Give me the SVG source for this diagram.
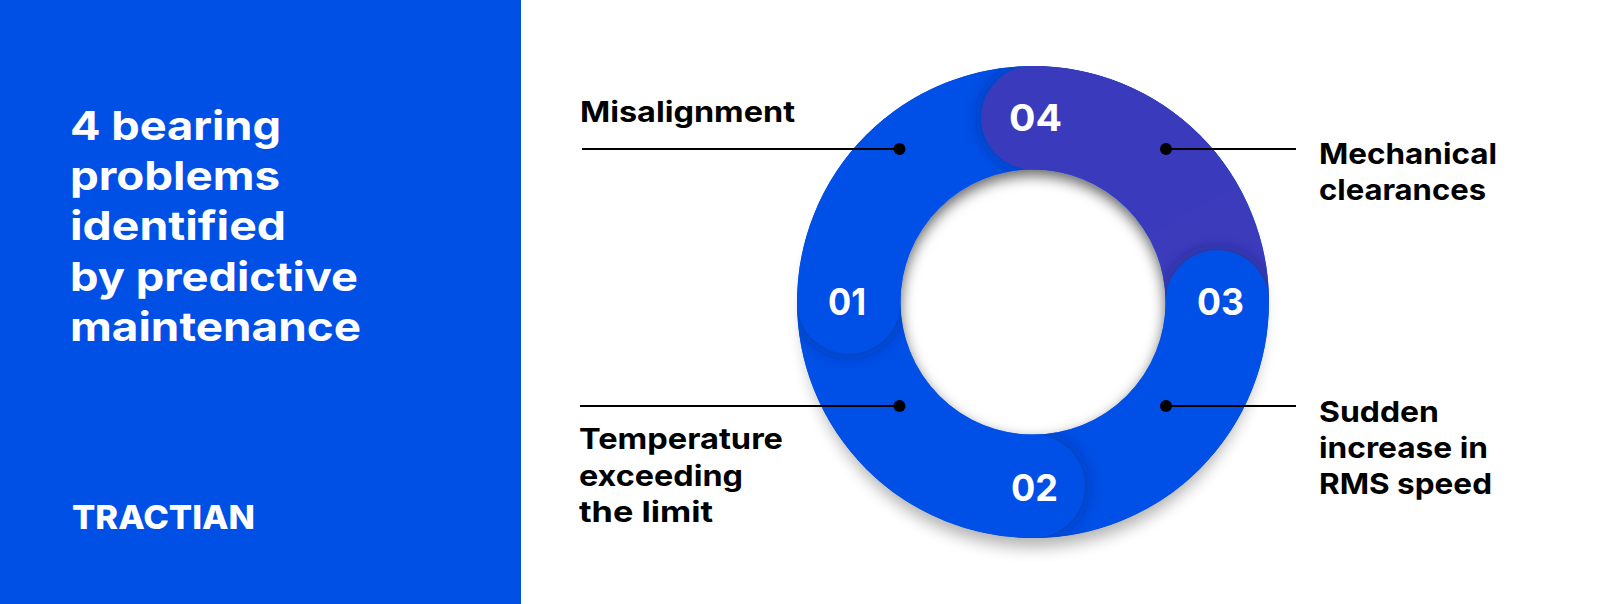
<svg xmlns="http://www.w3.org/2000/svg" width="1615" height="604" viewBox="0 0 1615 604">
<style>
text{font-family:"Inter","Liberation Sans",sans-serif;font-weight:700}
.head{font-size:40px;fill:#fff}
.num{font-size:37px;fill:#fff}
.lab{font-size:29px;fill:#000}
.arc{fill:none;stroke-width:103.5}
.blue{stroke:#0050E6}
.pur{stroke:#3A3BBC}
.conn{stroke:#000;stroke-width:2;fill:none}
</style>
<defs>
<filter id="soft" x="-20%" y="-20%" width="140%" height="140%"><feGaussianBlur stdDeviation="8"/></filter>
<filter id="inner" x="-20%" y="-20%" width="140%" height="140%"><feDropShadow dx="0" dy="6" stdDeviation="7" flood-color="#000" flood-opacity="0.6"/></filter>
<filter id="cap" x="-30%" y="-30%" width="160%" height="160%"><feDropShadow dx="0" dy="0" stdDeviation="8" flood-color="#001a60" flood-opacity="0.5"/></filter>
<clipPath id="ring"><path clip-rule="evenodd" d="M797,302a236,236 0 1,0 472,0a236,236 0 1,0 -472,0ZM900.500,302a132.500,132.500 0 1,0 265,0a132.500,132.500 0 1,0 -265,0Z"/></clipPath>
<clipPath id="hole"><circle cx="1033" cy="302" r="133"/></clipPath>
</defs>
<rect id="panel" x="0" y="0" width="521" height="604" fill="#0050E6"/>
<g id="heading">
<text class="head" x="70" y="140" textLength="211" lengthAdjust="spacingAndGlyphs">4 bearing</text>
<text class="head" x="70" y="190" textLength="210" lengthAdjust="spacingAndGlyphs">problems</text>
<text class="head" x="70" y="240" textLength="216" lengthAdjust="spacingAndGlyphs">identified</text>
<text class="head" x="70" y="291" textLength="288" lengthAdjust="spacingAndGlyphs">by predictive</text>
<text class="head" x="70" y="341" textLength="291" lengthAdjust="spacingAndGlyphs">maintenance</text>
</g>
<text id="logo" x="72" y="529" font-size="33" style="font-weight:800" fill="#fff" textLength="183" lengthAdjust="spacingAndGlyphs">TRACTIAN</text>
<circle id="outer-shadow" cx="1033" cy="318" r="229" fill="#000" opacity="0.3" filter="url(#soft)"/>
<circle id="ring-base" cx="1033" cy="302" r="184.250" fill="none" stroke="#0050E6" stroke-width="103.500"/>
<g clip-path="url(#hole)">
<rect x="895" y="164" width="276" height="276" fill="#fff"/>
<circle id="hole-shadow" cx="1033" cy="302" r="184.250" fill="none" stroke="#0050E6" stroke-width="103.500" filter="url(#inner)"/>
</g>
<g clip-path="url(#ring)">
<g id="ring-04-under" filter="url(#cap)">
<path class="arc pur" d="M1033,117.750A184.250,184.250 0 0 1 1217.250,302"/>
</g>
<g filter="url(#cap)" id="ring-03">
<path class="arc blue" d="M1217.250,302A184.250,184.250 0 0 1 1033,486.250"/>
<circle cx="1217.250" cy="302" r="51.750" fill="#0050E6"/>
</g>
<g filter="url(#cap)" id="ring-02">
<path class="arc blue" d="M1033,486.250A184.250,184.250 0 0 1 848.750,302"/>
<circle cx="1033" cy="486.250" r="51.750" fill="#0050E6"/>
</g>
<g filter="url(#cap)" id="ring-01">
<path class="arc blue" d="M848.750,302A184.250,184.250 0 0 1 1033,117.750"/>
<circle cx="848.750" cy="302" r="51.750" fill="#0050E6"/>
</g>
<circle cx="1033" cy="117.750" r="51.750" fill="#3A3BBC" filter="url(#cap)"/>
<path class="arc pur" d="M1033,117.750A184.250,184.250 0 0 1 1192.600,209.900"/>
<circle cx="1033" cy="117.750" r="51.750" fill="#3A3BBC"/>
</g>
<g id="connectors">
<path class="conn" d="M582,149H899"/><circle cx="899.500" cy="149" r="6"/>
<path class="conn" d="M1166,149H1296"/><circle cx="1166" cy="149" r="6"/>
<path class="conn" d="M580,406H899"/><circle cx="899.500" cy="406" r="6"/>
<path class="conn" d="M1166,406H1296"/><circle cx="1166" cy="406" r="6"/>
</g>
<g id="node-01">
<text class="num" x="828" y="315" textLength="38" lengthAdjust="spacingAndGlyphs">01</text>
<text class="lab" x="580" y="122" textLength="215" lengthAdjust="spacingAndGlyphs">Misalignment</text>
</g>
<g id="node-02">
<text class="num" x="1011" y="501" textLength="47" lengthAdjust="spacingAndGlyphs">02</text>
<text class="lab" x="579" y="449" textLength="204" lengthAdjust="spacingAndGlyphs">Temperature</text>
<text class="lab" x="579" y="486" textLength="164" lengthAdjust="spacingAndGlyphs">exceeding</text>
<text class="lab" x="579" y="522" textLength="134" lengthAdjust="spacingAndGlyphs">the limit</text>
</g>
<g id="node-03">
<text class="num" x="1197" y="315" textLength="47" lengthAdjust="spacingAndGlyphs">03</text>
<text class="lab" x="1319" y="422" textLength="120" lengthAdjust="spacingAndGlyphs">Sudden</text>
<text class="lab" x="1319" y="458" textLength="169" lengthAdjust="spacingAndGlyphs">increase in</text>
<text class="lab" x="1319" y="494" textLength="173" lengthAdjust="spacingAndGlyphs">RMS speed</text>
</g>
<g id="node-04">
<text class="num" x="1009" y="131" textLength="53" lengthAdjust="spacingAndGlyphs">04</text>
<text class="lab" x="1319" y="163.500" textLength="178" lengthAdjust="spacingAndGlyphs">Mechanical</text>
<text class="lab" x="1319" y="199.500" textLength="167" lengthAdjust="spacingAndGlyphs">clearances</text>
</g>
</svg>
